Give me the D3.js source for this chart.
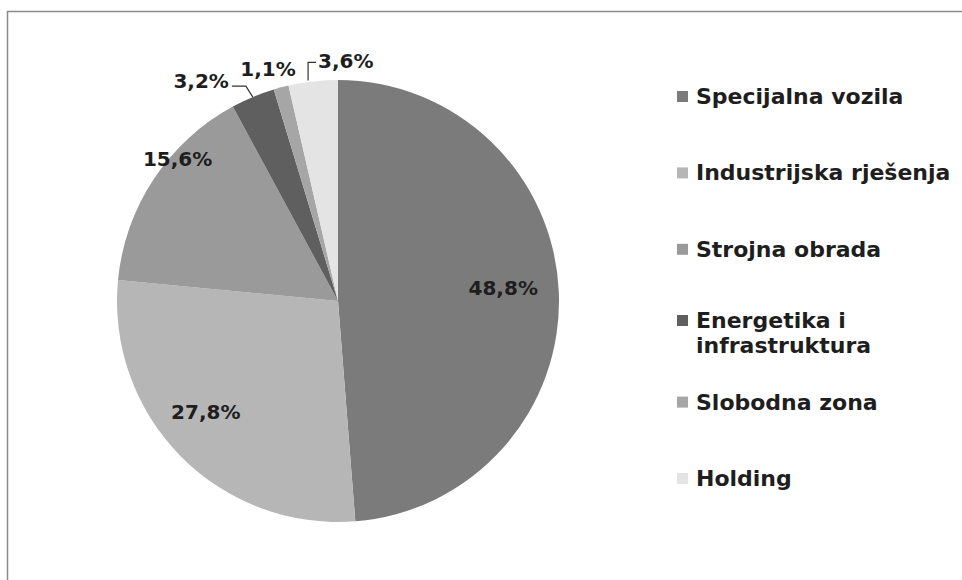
<!DOCTYPE html>
<html>
<head>
<meta charset="utf-8">
<script src="https://cdn.jsdelivr.net/npm/d3@7"></script>
<style>
  body { margin: 0; background: #fff; }
  text { font-family: "DejaVu Sans", Tahoma, sans-serif; font-weight: bold; fill: #1e1e1e; }
</style>
</head>
<body>
<div id="chart"></div>
<script>
// segment names, shares (%) and fills, clockwise from 12 o'clock
var categories = ["Specijalna vozila", "Industrijska rješenja", "Strojna obrada",
  "Energetika i infrastruktura", "Slobodna zona", "Holding"];
var shares = [48.8, 27.8, 15.6, 3.2, 1.1, 3.6];
var shareLabels = ["48,8%", "27,8%", "15,6%", "3,2%", "1,1%", "3,6%"];
var fills = ["#7b7b7b", "#b6b6b6", "#9a9a9a", "#5f5f5f", "#a6a6a6", "#e4e4e4"];
// legend lines (wrapped like the original)
var legendLines = [["Specijalna vozila"], ["Industrijska rješenja"], ["Strojna obrada"],
  ["Energetika i", "infrastruktura"], ["Slobodna zona"], ["Holding"]];

var width = 962;
var height = 580;
var cx = 338;
var cy = 301;
var radius = 221;

var svg = d3.select("#chart").append("svg")
    .attr("width", width)
    .attr("height", height);

// frame
svg.append("path")
    .attr("d", "M7.5," + height + "V11.5H" + width)
    .attr("fill", "none")
    .attr("stroke", "#8a8a8a")
    .attr("stroke-width", 1.5);

var pie = d3.pie().sort(null).value(function(d) { return d; });
var arcs = pie(shares);

var arc = d3.arc().innerRadius(0).outerRadius(radius);

var g = svg.append("g")
    .attr("transform", "translate(" + cx + "," + cy + ")");

g.selectAll("path.slice")
    .data(arcs)
    .enter()
    .append("path")
    .attr("class", "slice")
    .attr("d", arc)
    .attr("fill", function(d, i) { return fills[i]; });

function polar(a, r) {
    return [Math.sin(a) * r, -Math.cos(a) * r];
}

// label placement: radius factor and angle nudge (radians) per slice
var labelPlace = [
    { r: 0.75, da: -0.04, anchor: "middle" },
    { r: 0.78, da: 0.08, anchor: "middle" },
    { r: 0.97, da: 0.14, anchor: "middle" },
    { r: 1.0, da: 0, anchor: "end", outside: true },
    { r: 1.0, da: 0, anchor: "middle", outside: true },
    { r: 1.0, da: 0, anchor: "start", outside: true }
];

arcs.forEach(function(d, i) {
    var mid = (d.startAngle + d.endAngle) / 2;
    var p = labelPlace[i];
    if (!p.outside) {
        var pt = polar(mid + p.da, radius * p.r);
        g.append("text")
            .attr("x", pt[0])
            .attr("y", pt[1])
            .attr("dy", "0.36em")
            .attr("text-anchor", p.anchor)
            .style("font-size", "20px")
            .text(shareLabels[i]);
        return;
    }
    var edge = polar(mid, radius);
    if (i === 3) {
        // leader: from slice edge up-left, then horizontal to the text
        var kx = edge[0] - 7, ky = edge[1] - 11;
        g.append("path")
            .attr("d", "M" + edge[0] + "," + edge[1] + "L" + kx + "," + ky + "H" + (kx - 14))
            .attr("fill", "none").attr("stroke", "#333").attr("stroke-width", 1.2);
        g.append("text")
            .attr("x", kx - 17).attr("y", ky)
            .attr("dy", "0.1em")
            .attr("text-anchor", "end")
            .style("font-size", "20px")
            .text(shareLabels[i]);
    } else if (i === 4) {
        g.append("text")
            .attr("x", edge[0] - 13).attr("y", edge[1] - 11)
            .attr("text-anchor", "middle")
            .style("font-size", "20px")
            .text(shareLabels[i]);
    } else {
        // bracket leader: up from slice, then right
        var bx = edge[0] - 5, topY = edge[1] - 19;
        g.append("path")
            .attr("d", "M" + bx + "," + (edge[1] - 1) + "V" + topY + "H" + (bx + 8))
            .attr("fill", "none").attr("stroke", "#333").attr("stroke-width", 1.2);
        g.append("text")
            .attr("x", bx + 10).attr("y", topY)
            .attr("dy", "0.3em")
            .attr("text-anchor", "start")
            .style("font-size", "20px")
            .text(shareLabels[i]);
    }
});

// legend
var legendY = d3.scalePoint()
    .domain(categories)
    .range([96, 478]);

var legend = svg.append("g").attr("class", "legend");
categories.forEach(function(c, i) {
    var y = legendY(c);
    if (i === 3) y = 320;
    legend.append("rect")
        .attr("x", 677)
        .attr("y", y - 5)
        .attr("width", 11)
        .attr("height", 11)
        .attr("fill", fills[i]);
    var t = legend.append("text")
        .attr("x", 696)
        .attr("y", y)
        .style("font-size", "22px");
    legendLines[i].forEach(function(line, j) {
        t.append("tspan")
            .attr("x", 696)
            .attr("dy", j === 0 ? "0.36em" : "1.15em")
            .text(line);
    });
});
</script>
</body>
</html>
